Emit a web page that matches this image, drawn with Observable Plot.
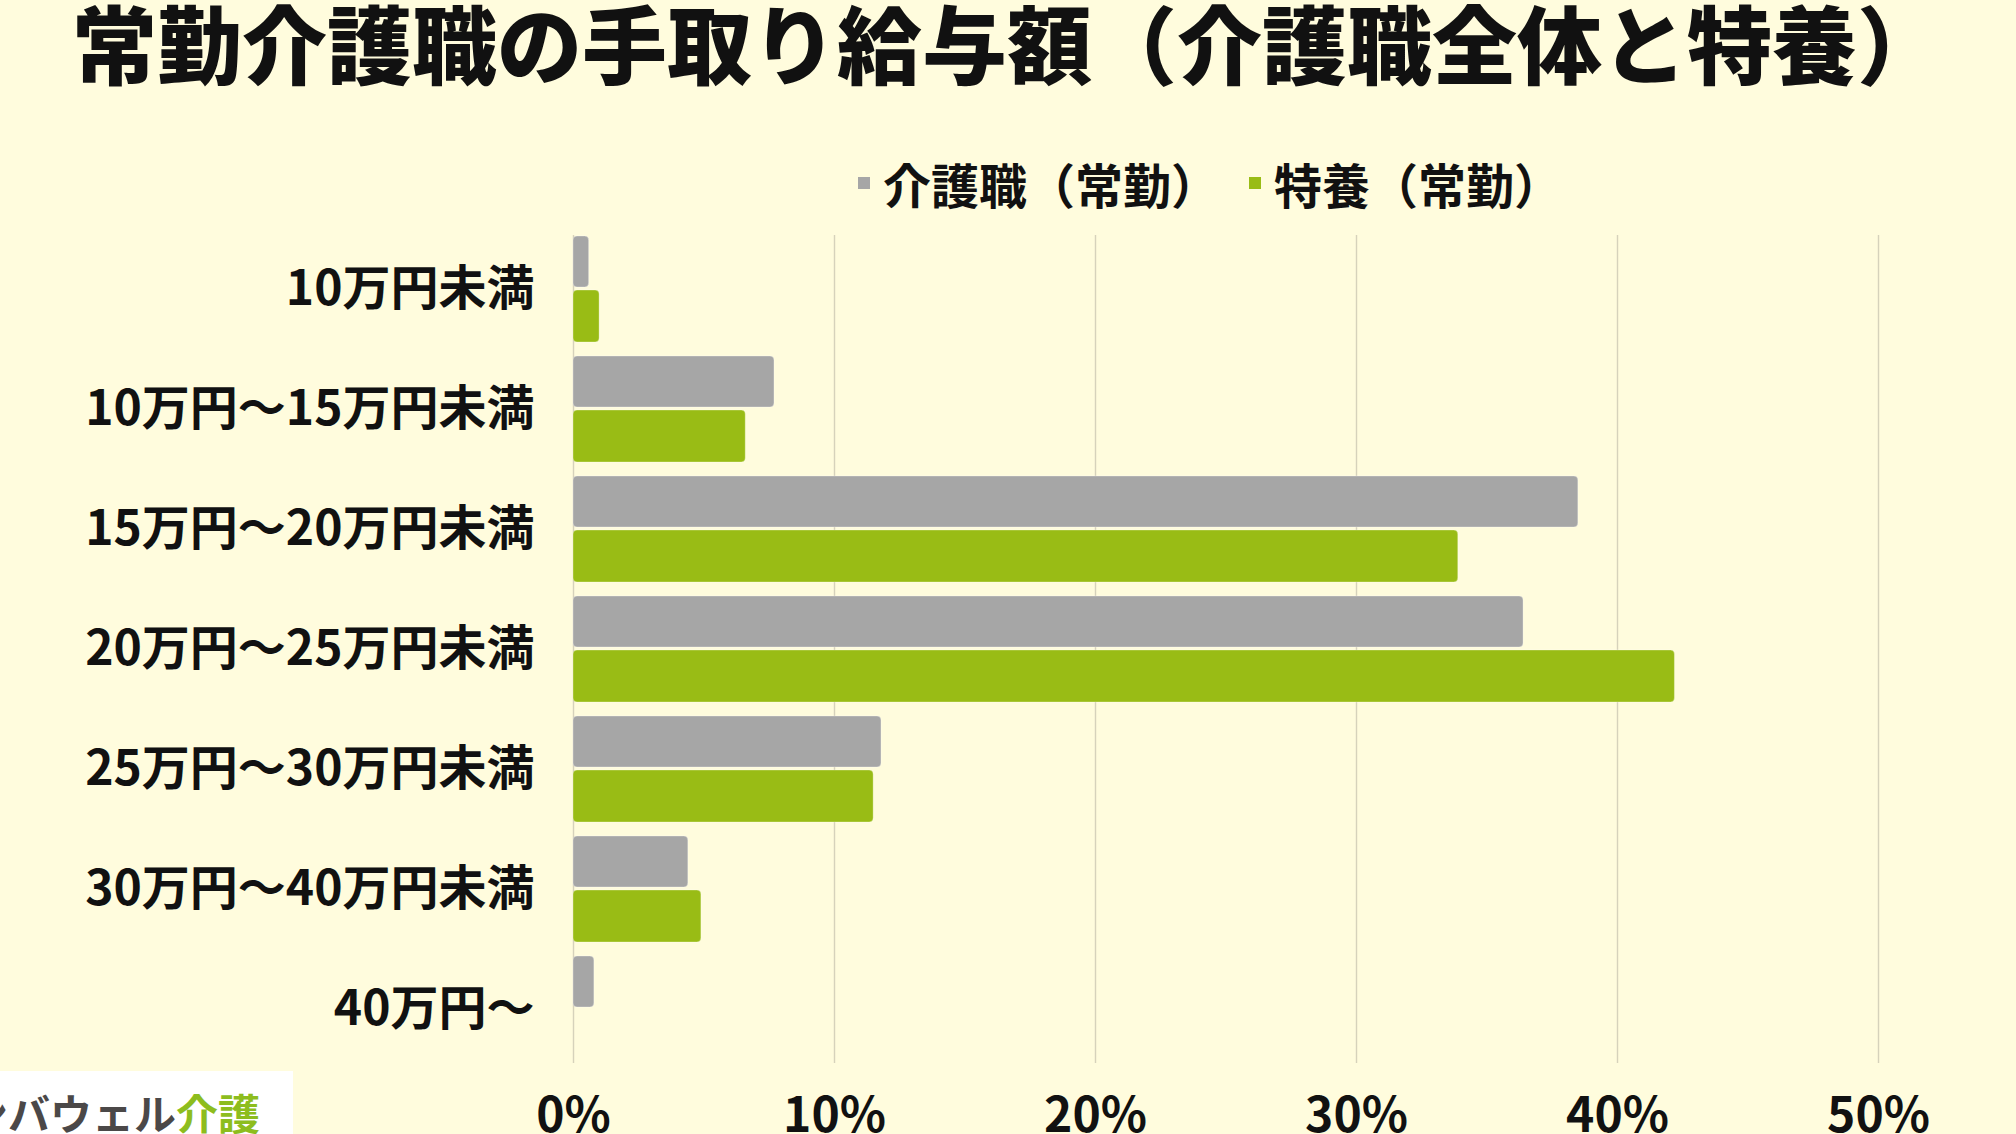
<!DOCTYPE html>
<html lang="ja">
<head>
<meta charset="utf-8">
<script src="https://cdn.jsdelivr.net/npm/d3@7"></script>
<script src="https://cdn.jsdelivr.net/npm/@observablehq/plot@0.6"></script>
<style>
  html, body { margin: 0; padding: 0; width: 2016px; height: 1134px; overflow: hidden; background: #fffcdd; }
  body { position: relative; font-family: "Noto Sans CJK JP", "Noto Sans", sans-serif; color: #111; }
  #title { position: absolute; left: 72px; top: -4px; font-size: 85px; line-height: 90px; font-weight: 900; white-space: nowrap; letter-spacing: 0; }
  #legend { position: absolute; left: 858px; top: 153px; height: 60px; display: flex; align-items: center; font-size: 48px; font-weight: 700; white-space: nowrap; }
  .sw { width: 12px; height: 12px; display: inline-block; margin-right: 13px; }
  .item { display: flex; align-items: center; }
  #chart { position: absolute; left: 0; top: 220px; }
  #logo { position: absolute; left: 0; top: 1071px; width: 293px; height: 63px; background: #ffffff; overflow: hidden; }
</style>
</head>
<body>
<div id="title">常勤介護職の手取り給与額（介護職全体と特養）</div>
<div id="legend"></div>
<div id="chart"></div>
<div id="logo"><div id="logotext" style="position:absolute;left:-34px;top:20px;font-size:42px;line-height:42px;font-weight:700;white-space:nowrap;"><span style="color:#4b4848">ンバウェル</span><span style="color:#8dbd1e">介護</span></div></div>
<script>
const categories = ["10万円未満", "10万円〜15万円未満", "15万円〜20万円未満", "20万円〜25万円未満", "25万円〜30万円未満", "30万円〜40万円未満", "40万円〜"];
const kaigoValues = [0.6, 7.7, 38.5, 36.4, 11.8, 4.4, 0.8];
const tokuyouValues = [1.0, 6.6, 33.9, 42.2, 11.5, 4.9, 0];
const seriesNames = ["介護職（常勤）", "特養（常勤）"];
const seriesColors = ["#a6a6a6", "#99bc15"];
const xTicks = [0, 10, 20, 30, 40, 50];

const kaigoRows = categories.map((c, i) => ({category: c, value: kaigoValues[i], series: seriesNames[0]}));
const tokuyouRows = categories.map((c, i) => ({category: c, value: tokuyouValues[i], series: seriesNames[1]}));

// legend
const legend = document.getElementById("legend");
seriesNames.forEach((name, i) => {
  const item = document.createElement("div");
  item.className = "item";
  if (i > 0) item.style.marginLeft = "30px";
  const sw = document.createElement("span");
  sw.className = "sw";
  sw.style.background = seriesColors[i];
  const label = document.createElement("span");
  label.textContent = name;
  item.appendChild(sw);
  item.appendChild(label);
  legend.appendChild(item);
});

const chart = Plot.plot({
  width: 2016,
  height: 923,
  marginLeft: 573,
  marginRight: 138,
  marginTop: 15,
  marginBottom: 80,
  style: {background: "transparent", fontFamily: "'Noto Sans CJK JP', sans-serif", fontSize: "48px", fontWeight: 700, color: "#111", overflow: "visible"},
  x: {domain: [0, 50], ticks: xTicks, tickFormat: d => d + "%", label: null, tickSize: 0, tickPadding: 34},
  y: {domain: categories, paddingInner: 0.117, paddingOuter: 0, label: null, tickSize: 0, tickPadding: 39},
  color: {domain: seriesNames, range: seriesColors},
  marks: [
    Plot.ruleX(xTicks, {stroke: "#d6d2bb", strokeWidth: 1.4}),
    Plot.barX(kaigoRows, {x: "value", y: "category", fill: "series", insetBottom: 55, rx: 4, stroke: "#ffffff", strokeOpacity: 0.3, strokeWidth: 1}),
    Plot.barX(tokuyouRows, {x: "value", y: "category", fill: "series", insetTop: 54, rx: 4, stroke: "#ffffff", strokeOpacity: 0.3, strokeWidth: 1})
  ]
});
document.getElementById("chart").appendChild(chart);
</script>
</body>
</html>
